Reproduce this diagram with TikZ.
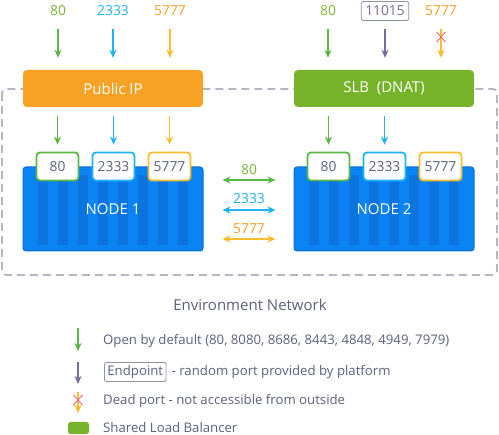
\documentclass[tikz,border=0pt]{standalone}
\usepackage{fontspec}
\setmainfont{Open Sans}
\usetikzlibrary{arrows.meta,calc}
\definecolor{cgreen}{HTML}{5CB646}
\definecolor{cgreenT}{HTML}{78B83A}
\definecolor{cslb}{HTML}{76B32B}
\definecolor{cblue}{HTML}{1EB2F6}
\definecolor{corangeT}{HTML}{F6A023}
\definecolor{corange}{HTML}{FDBC2F}
\definecolor{cpip}{HTML}{F7A125}
\definecolor{cnode}{HTML}{0A84F2}
\definecolor{cstripe}{HTML}{0B74DE}
\definecolor{cnodeb}{HTML}{0A6CD0}
\definecolor{cgrey}{HTML}{5B6178}
\definecolor{cdash}{HTML}{B5B6C4}
\definecolor{cpurple}{HTML}{7B6A9E}
\definecolor{cred}{HTML}{E86A6A}
\definecolor{cbox}{HTML}{8C93A8}
\begin{document}
\begin{tikzpicture}[x=1pt,y=-1pt,
  arr/.style={line width=1.3pt,-{Stealth[length=8pt,width=7pt,inset=2.5pt]}},
  darr/.style={line width=1.3pt,{Stealth[length=8pt,width=7pt,inset=2.5pt]}-{Stealth[length=8pt,width=7pt,inset=2.5pt]}},
  lbl/.style={font=\fontsize{13.8}{16}\selectfont,inner sep=0pt},
  leg/.style={lbl,text=cgrey,anchor=west,font=\fontsize{13.2}{16}\selectfont},
  hdr/.style={rounded corners=4pt,minimum width=180pt,minimum height=37pt,text=white,font=\fontsize{15}{17}\selectfont,inner sep=0pt},
  nodebox/.style={rounded corners=3pt,fill=cnode,draw=cnodeb,line width=1pt,minimum width=180pt,minimum height=84pt,inner sep=0pt},
  port/.style={rounded corners=3.5pt,fill=white,line width=1.8pt,minimum width=42pt,minimum height=28pt,inner sep=0pt,text=cgrey,font=\fontsize{13.8}{16}\selectfont},
  xmark/.style={cred,line width=0.9pt}
]
\useasboundingbox (0,0) rectangle (499,435);

% dashed environment network
\draw[cdash,line width=1.8pt,dash pattern=on 8pt off 5pt,rounded corners=4pt] (2,89) rectangle (497,275);

% header boxes
\node[hdr,fill=cpip] (pip) at (113,88.5) {Public IP};
\node[hdr,fill=cslb] (slb) at (384,88.5) {SLB\ \ (DNAT)};

% top labels
\node[lbl,text=cgreenT] (t1) at (58,11) {80};
\node[lbl,text=cblue] (t2) at (113,11) {2333};
\node[lbl,text=corangeT] (t3) at (170,11) {5777};
\node[lbl,text=cgreenT] (t4) at (328,11) {80};
\node[lbl,text=cpurple,draw=cbox,line width=0.8pt,rounded corners=2pt,inner xsep=4pt,minimum height=19pt] (t5) at (385,11) {11015};
\node[lbl,text=corangeT] (t6) at (441,11) {5777};

% top arrows
\coordinate (a1) at (58,29); \coordinate (a2) at (113,29); \coordinate (a3) at (170,29);
\coordinate (a4) at (328,29); \coordinate (a5) at (385,29); \coordinate (a6) at (441,29);
\draw[arr,cgreen,shorten >=12pt] (a1) -- (a1 |- pip.north);
\draw[arr,cblue,shorten >=12pt] (a2) -- (a2 |- pip.north);
\draw[arr,corange,shorten >=12pt] (a3) -- (a3 |- pip.north);
\draw[arr,cgreen,shorten >=12pt] (a4) -- (a4 |- slb.north);
\draw[arr,cpurple,shorten >=12pt] (a5) -- (a5 |- slb.north);
\draw[arr,corange,shorten >=12pt] (a6) -- (a6 |- slb.north);
\coordinate (x6) at (441,37);
\draw[xmark] ($(x6)+(-4.5,-5)$) -- ($(x6)+(4.5,5)$) ($(x6)+(-4.5,5)$) -- ($(x6)+(4.5,-5)$);

% node boxes
\node[nodebox] (n1) at (113,209) {};
\node[nodebox] (n2) at (384,209) {};
\foreach \i in {0,...,7} {
  \fill[cstripe] (38+20*\i,175) rectangle (48+20*\i,245);
  \fill[cstripe] (309+20*\i,175) rectangle (319+20*\i,245);
}
\node[text=white,font=\fontsize{15}{17}\selectfont] (n1t) at (n1) {NODE 1};
\node[text=white,font=\fontsize{15}{17}\selectfont] (n2t) at (n2) {NODE 2};

% ports
\node[port,draw=cgreen] (p1) at (57.5,166.5) {80};
\node[port,draw=cblue] (p2) at (113.5,166.5) {2333};
\node[port,draw=corange] (p3) at (169.5,166.5) {5777};
\node[port,draw=cgreen] (p4) at (328.5,166.5) {80};
\node[port,draw=cblue] (p5) at (384.5,166.5) {2333};
\node[port,draw=corange] (p6) at (440.5,166.5) {5777};

% arrows below headers
\draw[arr,cgreen,shorten <=9pt,shorten >=7pt] (pip.south -| p1) -- (p1.north);
\draw[arr,cblue,shorten <=9pt,shorten >=7pt] (pip.south -| p2) -- (p2.north);
\draw[arr,corange,shorten <=9pt,shorten >=7pt] (pip.south -| p3) -- (p3.north);
\draw[arr,cgreen,shorten <=9pt,shorten >=7pt] (slb.south -| p4) -- (p4.north);
\draw[arr,cblue,shorten <=9pt,shorten >=7pt] (slb.south -| p5) -- (p5.north);

% middle arrows
\coordinate (m1) at (249,180); \coordinate (m2) at (249,210); \coordinate (m3) at (249,239);
\draw[darr,cgreen,shorten <=19pt,shorten >=18pt] (n1.east |- m1) -- (n2.west |- m1);
\draw[darr,cblue,shorten <=19pt,shorten >=18pt] (n1.east |- m2) -- (n2.west |- m2);
\draw[darr,corange,shorten <=19pt,shorten >=18pt] (n1.east |- m3) -- (n2.west |- m3);
\node[lbl,text=cgreenT] (ml1) at (249,170) {80};
\node[lbl,text=cblue] (ml2) at (249,199) {2333};
\node[lbl,text=corangeT] (ml3) at (249,229) {5777};

% environment label
\node[lbl,text=cgrey,font=\fontsize{15}{17}\selectfont] (env) at (250,305) {Environment Network};

% legend
\coordinate (l1) at (78,328); \coordinate (l1e) at (78,351);
\draw[arr,cgreen] (l1) -- (l1e);
\node[leg] (lt1) at (103,341.5) {Open by default (80, 8080, 8686, 8443, 4848, 4949, 7979)};
\coordinate (l2) at (78,362); \coordinate (l2e) at (78,384);
\draw[arr,cpurple] (l2) -- (l2e);
\node[leg,draw=cbox,line width=0.8pt,rounded corners=2pt,inner xsep=3pt,minimum height=19pt] (lt2a) at (104,372) {Endpoint};
\node[leg] (lt2) at ([xshift=5pt]lt2a.east) {- random port provided by platform};
\coordinate (l3) at (78,392); \coordinate (l3e) at (78,413);
\draw[arr,corange] (l3) -- (l3e);
\coordinate (x3) at (78,400);
\draw[xmark] ($(x3)+(-4.5,-5)$) -- ($(x3)+(4.5,5)$) ($(x3)+(-4.5,5)$) -- ($(x3)+(4.5,-5)$);
\node[leg] (lt3) at (103,401) {Dead port - not accessible from outside};
\node[fill=cslb,rounded corners=2.5pt,minimum width=21pt,minimum height=12pt,inner sep=0pt] (lg) at (78.5,428) {};
\node[leg] (lt4) at (103,428) {Shared Load Balancer};
\end{tikzpicture}
\end{document}
